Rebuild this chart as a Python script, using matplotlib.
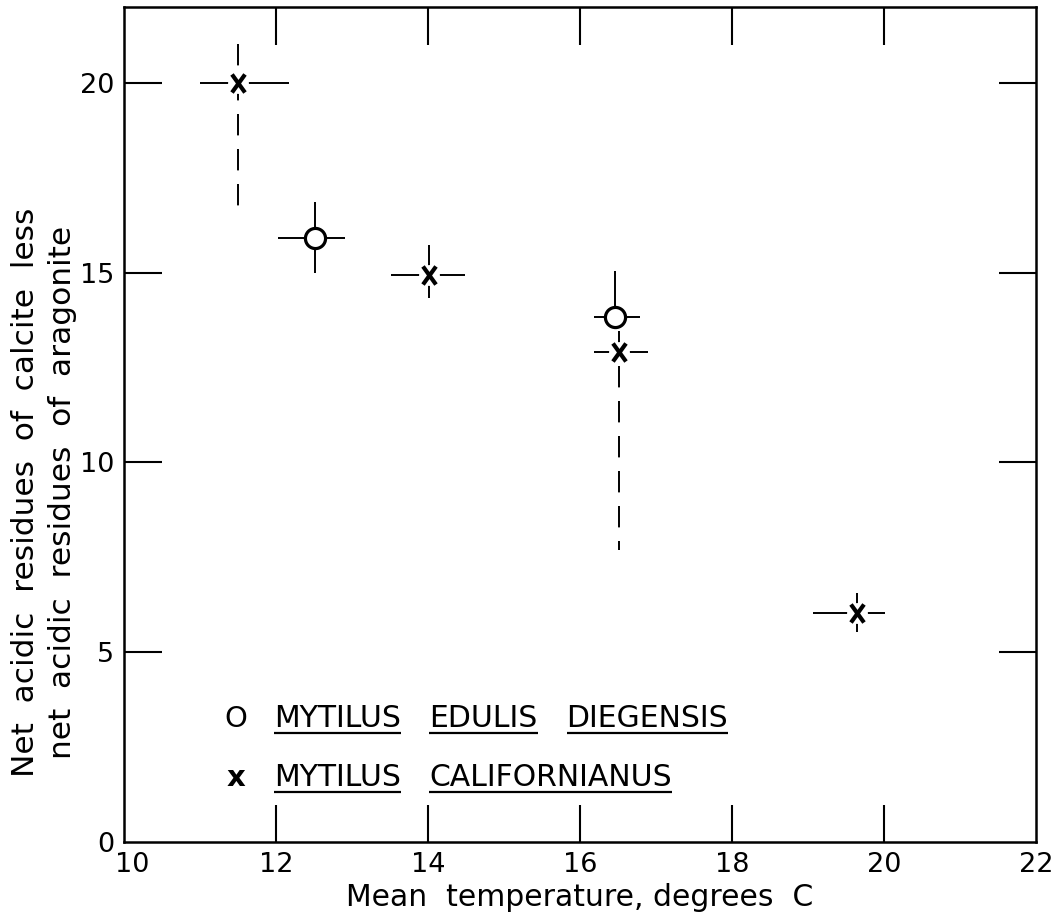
import matplotlib
matplotlib.use("Agg")
import matplotlib.pyplot as plt
from matplotlib.path import Path
from matplotlib import transforms

# Mytilus edulis diegensis (open circles)
edulis_temp = [12.52, 16.46]
edulis_resid = [15.92, 13.82]
edulis_temp_lo = [12.03, 16.19]
edulis_temp_hi = [12.91, 16.79]
edulis_resid_lo = [14.98, 13.82]
edulis_resid_hi = [16.86, 15.05]
edulis_vstyle = ["solid", "solid"]

# Mytilus californianus (crosses)
calif_temp = [11.50, 14.02, 16.51, 19.64]
calif_resid = [20.00, 14.94, 12.92, 6.03]
calif_temp_lo = [11.00, 13.52, 16.19, 19.06]
calif_temp_hi = [12.17, 14.49, 16.90, 20.01]
calif_resid_lo = [16.47, 14.33, 7.69, 5.54]
calif_resid_hi = [21.03, 15.73, 13.45, 6.55]
calif_vstyle = ["dashed", "solid", "dashed", "solid"]

xticks = [10, 12, 14, 16, 18, 20, 22]
yticks = [0, 5, 10, 15, 20]

legend_symbols = ["O", "x"]
legend_words = [["MYTILUS", "EDULIS", "DIEGENSIS"],
                ["MYTILUS", "CALIFORNIANUS"]]

LS = {"solid": "-", "dashed": (0, (11, 7))}


def draw_ranges(ax, xs, ys, xlo, xhi, ylo, yhi, vstyle):
    for x, y, x0, x1, y0, y1, ls in zip(xs, ys, xlo, xhi, ylo, yhi, vstyle):
        ax.plot([x0, x1], [y, y], color="k", lw=1.4,
                solid_capstyle="butt", zorder=2)
        ax.plot([x, x], [y1, y0], color="k", lw=1.4, linestyle=LS[ls],
                solid_capstyle="butt", dash_capstyle="butt", zorder=2)


fig = plt.figure(figsize=(10.55, 9.23), dpi=100)
ax = fig.add_axes([0.1175, 0.0878, 0.8645, 0.9047])

draw_ranges(ax, edulis_temp, edulis_resid, edulis_temp_lo, edulis_temp_hi,
            edulis_resid_lo, edulis_resid_hi, edulis_vstyle)
draw_ranges(ax, calif_temp, calif_resid, calif_temp_lo, calif_temp_hi,
            calif_resid_lo, calif_resid_hi, calif_vstyle)

# white gap around the crosses, then the crosses themselves
ax.plot(calif_temp, calif_resid, "o", ms=15, mfc="white", mec="none", zorder=3)
cross = Path([(-0.72, -1), (0.72, 1), (-0.72, 1), (0.72, -1)],
             [Path.MOVETO, Path.LINETO, Path.MOVETO, Path.LINETO])
ax.plot(calif_temp, calif_resid, linestyle="none", marker=cross, ms=13,
        mew=3.0, color="k", zorder=4)
ax.plot(edulis_temp, edulis_resid, "o", ms=14.5, mfc="white", mec="k",
        mew=2.3, zorder=4)

ax.set_xlim(10, 22)
ax.set_ylim(0, 22)
ax.set_xticks(xticks)
ax.set_yticks(yticks)
ax.tick_params(direction="in", length=27, width=1.5, top=True, right=True,
               labelsize=19.5, pad=7)
for s in ax.spines.values():
    s.set_linewidth(1.8)

# no tick marks where they would sit on the frame
for tk, loc in zip(ax.xaxis.get_major_ticks(), xticks):
    if loc in (xticks[0], xticks[-1]):
        tk.tick1line.set_visible(False)
        tk.tick2line.set_visible(False)
for tk, loc in zip(ax.yaxis.get_major_ticks(), yticks):
    if loc == yticks[0]:
        tk.tick1line.set_visible(False)
        tk.tick2line.set_visible(False)

# nudge the "10" away from the corner
t0 = ax.xaxis.get_major_ticks()[0].label1
t0.set_transform(t0.get_transform() +
                 transforms.ScaledTranslation(6 / 72, 0, fig.dpi_scale_trans))

ax.set_xlabel("Mean  temperature, degrees  C", fontsize=21.5)
ax.xaxis.set_label_coords(0.5, -0.049)
ax.set_ylabel("Net  acidic  residues  of  calcite  less\n"
              "net  acidic  residues  of  aragonite",
              fontsize=22.5, linespacing=1.35, va="center")
ax.yaxis.set_label_coords(-0.088, 0.419)

# legend drawn as lettering with each word underlined
row_base = [3.03, 1.48]
sym_x = 11.47
word_x0 = 11.97
word_gap = 0.38
renderer = fig.canvas.get_renderer()
inv = ax.transData.inverted()
for sym, words, yb in zip(legend_symbols, legend_words, row_base):
    ax.text(sym_x, yb, sym, fontsize=21, ha="center", va="baseline",
            fontweight="bold" if sym == "x" else "normal")
    x = word_x0
    for w in words:
        t = ax.text(x, yb, w, fontsize=21.5, ha="left", va="baseline")
        bb = t.get_window_extent(renderer)
        x_end = inv.transform((bb.x1, bb.y0))[0]
        ax.plot([x, x_end], [yb - 0.16, yb - 0.16], color="k", lw=1.6,
                solid_capstyle="butt")
        x = x_end + word_gap

fig.savefig("out.png", dpi=100)
